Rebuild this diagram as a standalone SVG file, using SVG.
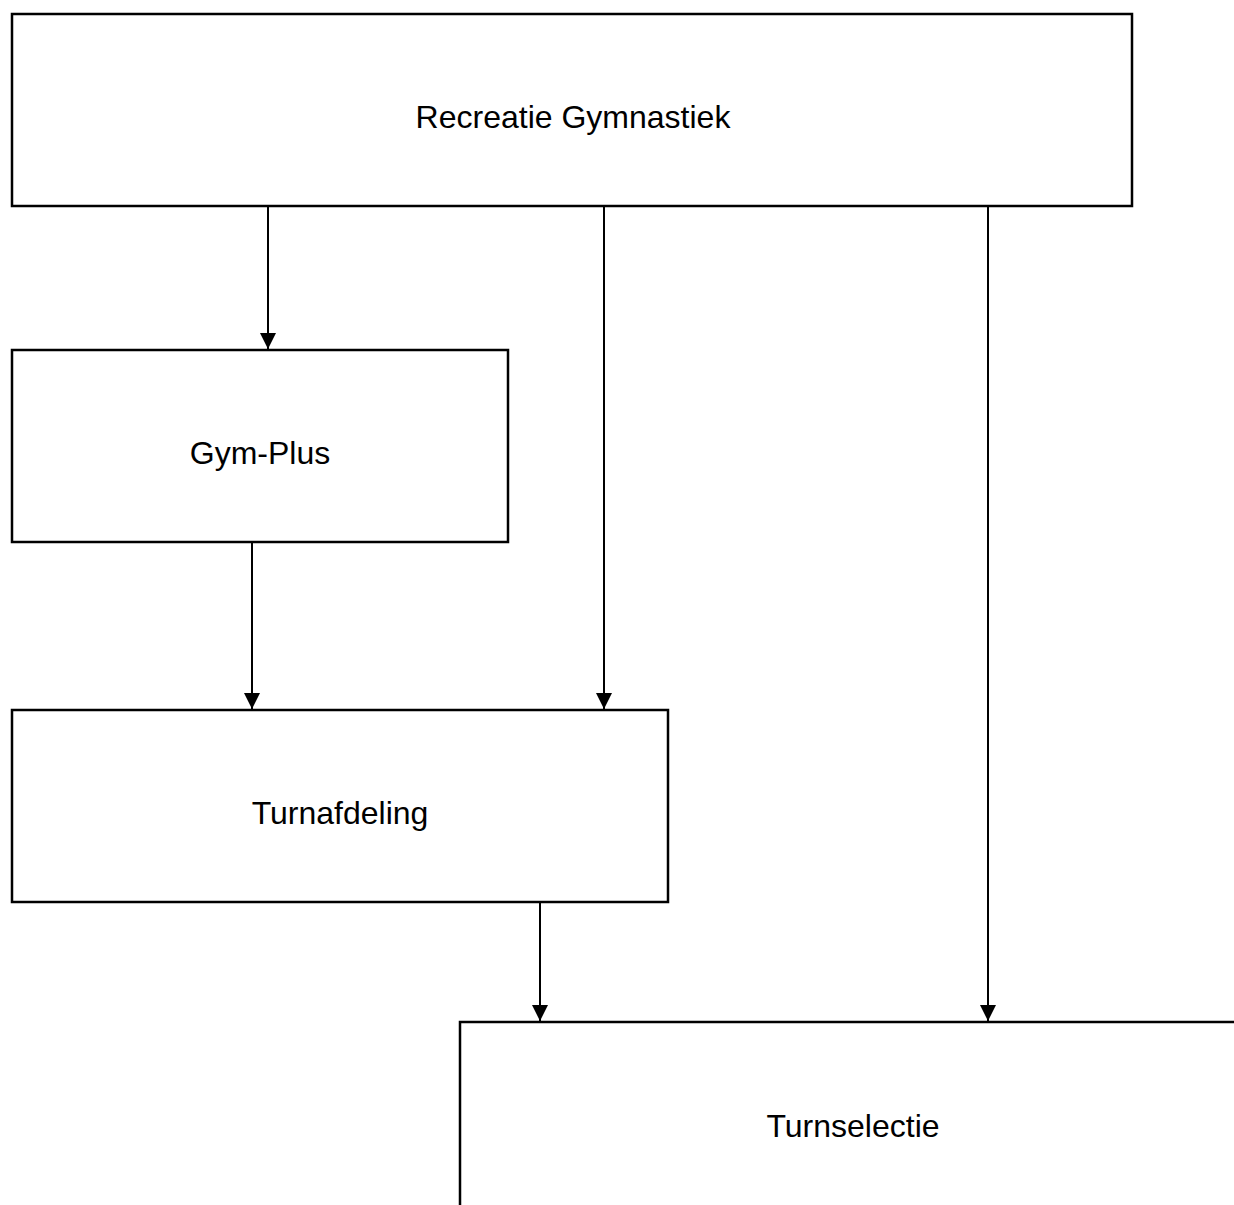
<svg xmlns="http://www.w3.org/2000/svg" width="1234" height="1205" viewBox="0 0 1234 1205">
<style>
.box{fill:#fff;stroke:#000;stroke-width:2.5}
.lbl{font-family:"Liberation Sans",Arial,sans-serif;font-size:32px;fill:#000;text-anchor:middle}
.edge{stroke:#000;stroke-width:2;fill:none;marker-end:url(#ah)}
</style>
<defs>
<marker id="ah" markerUnits="userSpaceOnUse" markerWidth="16" markerHeight="16" refX="16" refY="8" orient="auto" viewBox="0 0 16 16">
<path d="M0,0 L16,8 L0,16 Z" fill="#000"/>
</marker>
</defs>
<rect width="1234" height="1205" fill="#fff"/>
<g id="n1"><rect class="box" x="12" y="14" width="1120" height="192"/><text class="lbl" x="573" y="128">Recreatie Gymnastiek</text></g>
<g id="n2"><rect class="box" x="12" y="350" width="496" height="192"/><text class="lbl" x="260" y="464">Gym-Plus</text></g>
<g id="n3"><rect class="box" x="12" y="710" width="656" height="192"/><text class="lbl" x="340" y="824">Turnafdeling</text></g>
<g id="n4"><rect class="box" x="460" y="1022" width="800" height="200"/><text class="lbl" x="853" y="1137">Turnselectie</text></g>
<g id="edges">
<path class="edge" d="M268,207 V349"/>
<path class="edge" d="M604,207 V709"/>
<path class="edge" d="M988,207 V1021"/>
<path class="edge" d="M252,543 V709"/>
<path class="edge" d="M540,903 V1021"/>
</g>
</svg>
